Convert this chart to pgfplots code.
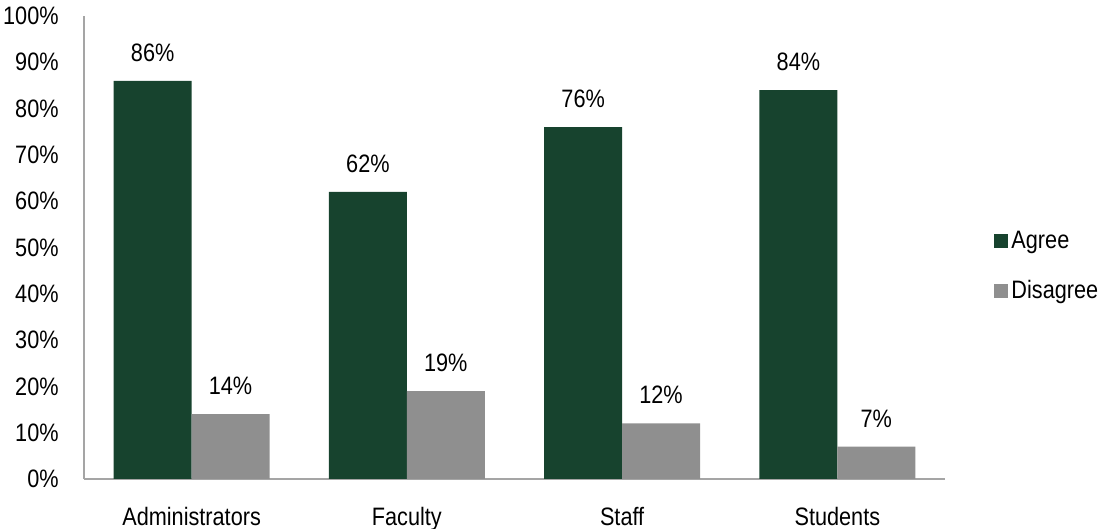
\documentclass[border=0pt]{standalone}
\usepackage{pgfplots}
\pgfplotsset{compat=1.18}
\usepackage{fontspec}
\setmainfont{Liberation Sans}[FakeStretch=0.86]
\newcommand\chartfont{\fontsize{12.6}{14}\selectfont}
\definecolor{agree}{RGB}{23,67,46}
\definecolor{disagree}{RGB}{143,143,143}
\definecolor{axgray}{RGB}{165,165,165}
\begin{document}
\begin{tikzpicture}
\useasboundingbox (-42pt,-25pt) rectangle (510.5pt,239.5pt);
\begin{axis}[
    at={(0,0)}, anchor=south west,
    width=430.5pt, height=231.5pt, scale only axis,
    ybar, bar width=0.362,
    xmin=-0.5, xmax=3.5, ymin=0, ymax=100,
    xtick={0,1,2,3},
    xticklabels={Administrators,Faculty,Staff,Students},
    ytick={0,10,...,100},
    yticklabels={0\%,10\%,20\%,30\%,40\%,50\%,60\%,70\%,80\%,90\%,100\%},
    major tick length=0pt,
    axis lines=left,
    axis line style={-, draw=axgray, line width=0.8pt},
    tick label style={font=\chartfont},
    xticklabel style={anchor=north, inner sep=0pt, yshift=-14pt},
    yticklabel style={anchor=east, inner sep=0pt, xshift=-12.5pt},
    nodes near coords={\pgfmathprintnumber[assume math mode=true]{\pgfplotspointmeta}\%},
    nodes near coords style={font=\chartfont, anchor=south, inner sep=0pt, yshift=9.5pt, text=black},
    legend style={draw=none, fill=none, at={(1.057,0.46)}, anchor=west,
        font=\chartfont, row sep=11.5pt, inner sep=0pt,
        nodes={inner sep=1.5pt}},
    legend cell align=left,
    legend image code/.code={\fill[#1] (0pt,-3.5pt) rectangle (7pt,3.5pt);},
]
\addplot[fill=agree, draw=none, bar shift=-0.181] coordinates {(0,86) (1,62) (2,76) (3,84)};
\addplot[fill=disagree, draw=none, bar shift=0.181] coordinates {(0,14) (1,19) (2,12) (3,7)};
\legend{Agree,Disagree}
\end{axis}
\end{tikzpicture}
\end{document}
